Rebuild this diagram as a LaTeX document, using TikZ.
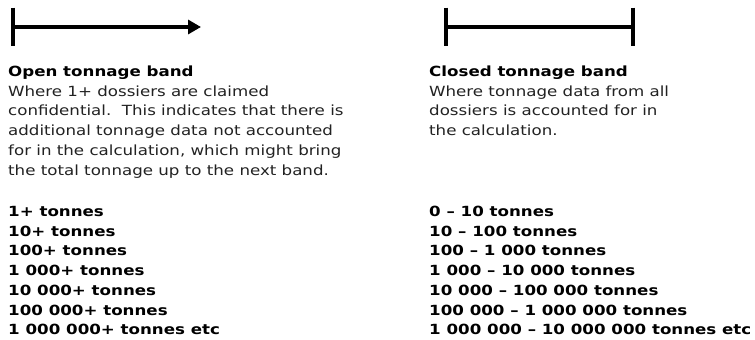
\documentclass[tikz,border=0pt]{standalone}
\usepackage{fontspec}
\setmainfont{DejaVu Sans}[FakeStretch=1.19]
\usetikzlibrary{arrows.meta}
\definecolor{bodytext}{HTML}{222222}
\tikzset{
  bar/.style={line width=3.6pt},
  rail/.style={line width=3.2pt},
  % anchored at the baseline of the last line
  block/.style={anchor=base west, inner sep=0pt, align=left,
    font=\fontsize{14}{19.7}\selectfont, text=bodytext},
  bands/.style={block, text=black, font=\fontsize{14}{19.7}\selectfont\bfseries},
}
\begin{document}
\begin{tikzpicture}[x=1pt,y=-1pt]
\useasboundingbox (0,0) rectangle (755,340);

% open band: start bar with an arrow running on
\coordinate (oa) at (13,27);
\coordinate (ob) at (201,27);
\coordinate (oat) at (13,7.5);
\coordinate (oab) at (13,45.5);
\draw[bar] (oat) -- (oab);
\draw[rail, -{Triangle[length=13pt,width=14pt]}] (oa) -- (ob);

% closed band: bars at both ends
\coordinate (ca) at (446,27);
\coordinate (cb) at (633,27);
\coordinate (cat) at (446,7.5);
\coordinate (cab) at (446,45.5);
\coordinate (cbt) at (633,7.5);
\coordinate (cbb) at (633,45.5);
\draw[bar] (cat) -- (cab);
\draw[bar] (cbt) -- (cbb);
\draw[rail] (ca) -- (cb);

% descriptions
\node[block] (opentext) at (8,175)
  {\textcolor{black}{\bfseries Open tonnage band}\\
   Where 1+ dossiers are claimed\\
   confidential.\ \ This indicates that there is\\
   additional tonnage data not accounted\\
   for in the calculation, which might bring\\
   the total tonnage up to the next band.};
\node[block] (closedtext) at (429,135.6)
  {\textcolor{black}{\bfseries Closed tonnage band}\\
   Where tonnage data from all\\
   dossiers is accounted for in\\
   the calculation.};

% band lists
\node[bands] (openlist) at (8,334.7)
  {1+ tonnes\\
   10+ tonnes\\
   100+ tonnes\\
   1 000+ tonnes\\
   10 000+ tonnes\\
   100 000+ tonnes\\
   1 000 000+ tonnes etc};
\node[bands] (closedlist) at (429,334.7)
  {0 – 10 tonnes\\
   10 – 100 tonnes\\
   100 – 1 000 tonnes\\
   1 000 – 10 000 tonnes\\
   10 000 – 100 000 tonnes\\
   100 000 – 1 000 000 tonnes\\
   1 000 000 – 10 000 000 tonnes etc};
\end{tikzpicture}
\end{document}
